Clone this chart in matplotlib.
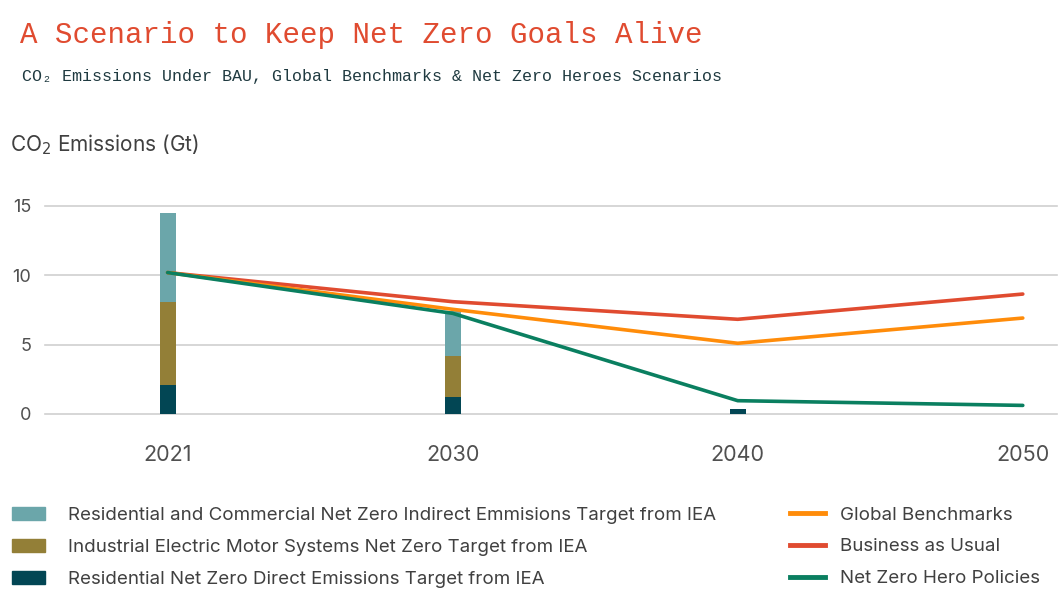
import matplotlib
matplotlib.use("Agg")
import matplotlib.pyplot as plt
from matplotlib.patches import Patch
from matplotlib.lines import Line2D
import numpy as np

years = ["2021", "2030", "2040", "2050"]
direct = [2.1, 1.2, 0.35, 0.0]
industrial = [6.0, 3.0, 0.0, 0.0]
indirect = [6.4, 3.2, 0.0, 0.0]
global_bench = [10.2, 7.55, 5.1, 6.92]
bau = [10.2, 8.1, 6.83, 8.65]
nzh = [10.2, 7.26, 0.96, 0.62]

bar_labels = ["Residential and Commercial Net Zero Indirect Emmisions Target from IEA",
              "Industrial Electric Motor Systems Net Zero Target from IEA",
              "Residential Net Zero Direct Emissions Target from IEA"]
line_labels = ["Global Benchmarks", "Business as Usual", "Net Zero Hero Policies"]

c_indirect = "#6BA6AA"
c_ind = "#937F37"
c_dir = "#024654"
c_gb = "#FF8C0A"
c_bau = "#E04B30"
c_nzh = "#0A7F60"
txt = "#404040"

plt.rcParams['font.family'] = ['Inter', 'DejaVu Sans']

fig = plt.figure(figsize=(10.58, 6.15), dpi=100)
ax = fig.add_axes([45/1058, 1-414/615, (1057-45)/1058, 208/615])

x = np.arange(len(years))
w = 0.056
direct_a = np.array(direct)
ind_a = np.array(industrial)
indir_a = np.array(indirect)
ax.bar(x, direct_a, w, color=c_dir, zorder=2)
ax.bar(x, ind_a, w, bottom=direct_a, color=c_ind, zorder=2)
ax.bar(x, indir_a, w, bottom=direct_a + ind_a, color=c_indirect, zorder=2)

ax.plot(x, bau, color=c_bau, lw=2.6, zorder=3, solid_capstyle='round')
ax.plot(x, global_bench, color=c_gb, lw=2.6, zorder=4, solid_capstyle='round')
ax.plot(x, nzh, color=c_nzh, lw=2.6, zorder=5, solid_capstyle='round')

ax.set_xlim(-0.43, 3.12)
ax.set_ylim(0, 15)
ax.set_yticks([0, 5, 10, 15])
ax.set_xticks(x)
ax.set_xticklabels(years)
for s in ax.spines.values():
    s.set_visible(False)
ax.grid(axis='y', color='#D0D0D0', lw=1.2, zorder=0)
for gl in ax.get_ygridlines():
    gl.set_clip_on(False)
ax.tick_params(axis='both', length=0)
ax.tick_params(axis='y', labelsize=13, labelcolor='#505050', pad=10)
ax.tick_params(axis='x', labelsize=15.5, labelcolor='#505050', pad=22)

fig.text(20/1058, 1-35/615, "A Scenario to Keep Net Zero Goals Alive", color="#E04B30",
         fontsize=21, family=['Liberation Mono', 'DejaVu Sans Mono'], va='center', ha='left')
fig.text(22/1058, 1-76/615, "CO₂ Emissions Under BAU, Global Benchmarks & Net Zero Heroes Scenarios",
         color="#1F3A40", fontsize=12, family=['Liberation Mono', 'DejaVu Sans Mono'],
         va='center', ha='left')
fig.text(10/1058, 1-145/615, "CO$_2$ Emissions (Gt)", color=txt, fontsize=15, va='center', ha='left')

h1 = [Patch(color=c) for c in [c_indirect, c_ind, c_dir]]
leg1 = fig.legend(h1, bar_labels, loc='upper left', bbox_to_anchor=(4/1058, 1-499/615),
                  frameon=False, fontsize=13.5, labelcolor=txt, handlelength=1.8,
                  handleheight=0.75, labelspacing=0.78, handletextpad=1.2, borderaxespad=0)
h2 = [Line2D([], [], color=c, lw=3.5) for c in [c_gb, c_bau, c_nzh]]
leg2 = fig.legend(h2, line_labels, loc='upper left', bbox_to_anchor=(782/1058, 1-499/615),
                  frameon=False, fontsize=13.5, labelcolor=txt, handlelength=1.9,
                  labelspacing=0.78, handletextpad=0.8, borderaxespad=0)

fig.savefig("out.png", dpi=100)
